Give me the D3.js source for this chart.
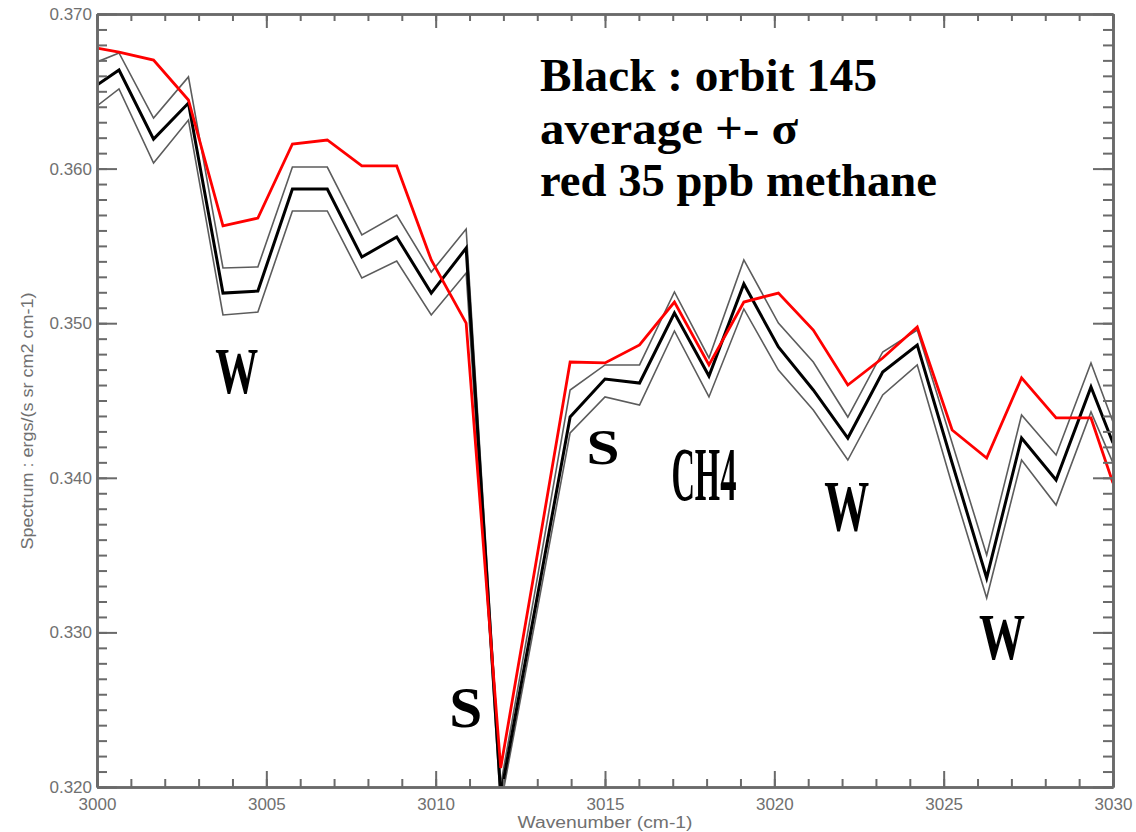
<!DOCTYPE html>
<html>
<head>
<meta charset="utf-8">
<script src="https://cdn.jsdelivr.net/npm/d3@7"></script>
<style>
	body { margin: 0; background: #fff; }
	#spectrumChart { width: 1136px; height: 832px; }
	.axisTick line, .axisTick path { stroke: #6a6a6a; }
	.tickLabel { fill: #707070; font-family: "Liberation Sans", Arial, sans-serif; }
	.annot { fill: #000; font-family: "Liberation Serif", "Times New Roman", serif; font-weight: bold; }
</style>
</head>
<body>
<div id="spectrumChart"></div>
<script>

// wavenumbers of the samples (first and last are the plot edges)
const wavenumbers = [3000.00, 3000.65, 3001.67, 3002.70, 3003.72, 3004.75, 3005.77, 3006.80, 3007.82, 3008.85,
	3009.87, 3010.90, 3011.92, 3012.95, 3013.97, 3015.00, 3016.02, 3017.05, 3018.07, 3019.10,
	3020.12, 3021.15, 3022.17, 3023.20, 3024.22, 3025.25, 3026.27, 3027.30, 3028.32, 3029.35, 3030.00];

// orbit 145 average
const avgSpectrum = [0.36541, 0.36638, 0.36191, 0.36424, 0.35195, 0.35208, 0.35868, 0.35868, 0.35428, 0.35558,
	0.35195, 0.35486, 0.31948, 0.33171, 0.34393, 0.34639, 0.34613, 0.35066, 0.34658, 0.35254,
	0.34846, 0.34568, 0.34257, 0.34684, 0.34859, 0.34096, 0.33352, 0.34257, 0.33986, 0.34587, 0.34225];

// average + sigma
const upperSpectrum = [0.36690, 0.36748, 0.36327, 0.36593, 0.35357, 0.35364, 0.36010, 0.36010, 0.35571, 0.35700,
	0.35331, 0.35609, 0.32013, 0.33287, 0.34568, 0.34730, 0.34730, 0.35202, 0.34775, 0.35409,
	0.35001, 0.34749, 0.34393, 0.34814, 0.34956, 0.34225, 0.33501, 0.34406, 0.34147, 0.34743, 0.34361];

// average - sigma
const lowerSpectrum = [0.36405, 0.36515, 0.36036, 0.36314, 0.35053, 0.35072, 0.35726, 0.35726, 0.35292, 0.35402,
	0.35053, 0.35325, 0.31884, 0.33087, 0.34290, 0.34523, 0.34471, 0.34950, 0.34523, 0.35092,
	0.34697, 0.34439, 0.34115, 0.34536, 0.34730, 0.33954, 0.33223, 0.34115, 0.33824, 0.34426, 0.34096];

// 35 ppb methane
const methaneSpectrum = [0.36780, 0.36754, 0.36702, 0.36444, 0.35629, 0.35680, 0.36159, 0.36185, 0.36017, 0.36017,
	0.35409, 0.35001, 0.32123, 0.33436, 0.34749, 0.34743, 0.34859, 0.35137, 0.34730, 0.35137,
	0.35195, 0.34956, 0.34600, 0.34775, 0.34975, 0.34309, 0.34128, 0.34646, 0.34387, 0.34387, 0.33966];

const xTickLabels = [3000, 3005, 3010, 3015, 3020, 3025, 3030];
const yTickLabels = [0.320, 0.330, 0.340, 0.350, 0.360, 0.370];

const legendLines = ['Black : orbit 145', 'average +- \u03c3', 'red 35 ppb methane'];

// band labels: text, wavenumber & value of the baseline centre
const bandLabels = [
	{ text: 'W', w: 3004.13, v: 0.34549, size: 66, len: 43 },
	{ text: 'S', w: 3010.89, v: 0.32388, size: 56, len: 33 },
	{ text: 'S', w: 3014.94, v: 0.34089, size: 50, len: 33 },
	{ text: 'CH4', w: 3017.92, v: 0.33857, size: 76, len: 65 },
	{ text: 'W', w: 3022.14, v: 0.33662, size: 71, len: 45 },
	{ text: 'W', w: 3026.72, v: 0.32828, size: 66, len: 46 }
];

const thisMargin = { left: 97, right: 23, top: 14, bottom: 45 };

function makeSpectrumElements(parentDivID){
	const thisChartDiv = document.getElementById(parentDivID);
	const svgObj = d3.select(thisChartDiv).append('svg')
		.attr('width', thisChartDiv.clientWidth)
		.attr('height', thisChartDiv.clientHeight);
	return { thisChartDiv, svgObj };
}

function toPoints(vals){
	return wavenumbers.map((w, i) => ({ w: w, v: vals[i] }));
}

function drawAxes(g, x, y, w, h){
	const xMinor = d3.range(3000, 3031, 1);
	const yMinor = d3.range(0.320, 0.3705, 0.001);

	//minor ticks first, then the majors over them
	g.append('g').attr('class', 'axisTick').attr('transform', `translate(0,${h})`)
		.call(d3.axisBottom(x).tickValues(xMinor).tickSize(-8).tickSizeOuter(0).tickFormat(''));
	g.append('g').attr('class', 'axisTick')
		.call(d3.axisTop(x).tickValues(xMinor).tickSize(-7).tickSizeOuter(0).tickFormat(''));
	g.append('g').attr('class', 'axisTick')
		.call(d3.axisLeft(y).tickValues(yMinor).tickSize(-10).tickSizeOuter(0).tickFormat(''));
	g.append('g').attr('class', 'axisTick').attr('transform', `translate(${w},0)`)
		.call(d3.axisRight(y).tickValues(yMinor).tickSize(-10).tickSizeOuter(0).tickFormat(''));

	let bottomAx = g.append('g').attr('class', 'axisTick').attr('transform', `translate(0,${h})`)
		.call(d3.axisBottom(x).tickValues(xTickLabels).tickSize(-16).tickSizeOuter(0).tickPadding(11).tickFormat(d3.format('d')));
	g.append('g').attr('class', 'axisTick')
		.call(d3.axisTop(x).tickValues(xTickLabels).tickSize(-14).tickSizeOuter(0).tickFormat(''));
	let leftAx = g.append('g').attr('class', 'axisTick')
		.call(d3.axisLeft(y).tickValues(yTickLabels).tickSize(-20).tickSizeOuter(0).tickPadding(5).tickFormat(d3.format('.3f')));
	g.append('g').attr('class', 'axisTick').attr('transform', `translate(${w},0)`)
		.call(d3.axisRight(y).tickValues(yTickLabels).tickSize(-20).tickSizeOuter(0).tickFormat(''));

	g.selectAll('.axisTick line').attr('stroke-width', 2);
	g.selectAll('.axisTick path.domain').attr('stroke-width', 2.6);

	[bottomAx, leftAx].forEach(ax => {
		ax.selectAll('text').attr('class', 'tickLabel').attr('font-size', 17).attr('fill', null);
	});
}

function buildSpectrumChart(parentDivID){
	const { thisChartDiv, svgObj } = makeSpectrumElements(parentDivID);
	const w = thisChartDiv.clientWidth - thisMargin.left - thisMargin.right;
	const h = thisChartDiv.clientHeight - thisMargin.top - thisMargin.bottom;

	const x = d3.scaleLinear().domain([3000, 3030]).range([0, w]);
	const y = d3.scaleLinear().domain([0.320, 0.370]).range([h, 0]);

	const g = svgObj.append('g').attr('transform', `translate(${thisMargin.left},${thisMargin.top})`);

	g.append('clipPath').attr('id', 'plotClip')
		.append('rect').attr('width', w).attr('height', h);

	const lineFn = d3.line().x(d => x(d.w)).y(d => y(d.v));

	const series = [
		{ vals: upperSpectrum, color: '#5c5c5c', width: 1.6 },
		{ vals: lowerSpectrum, color: '#5c5c5c', width: 1.6 },
		{ vals: avgSpectrum, color: '#000000', width: 3 },
		{ vals: methaneSpectrum, color: '#ff0000', width: 2.8 }
	];

	const lineG = g.append('g').attr('clip-path', 'url(#plotClip)');
	lineG.selectAll('path')
		.data(series)
		.enter()
		.append('path')
		.attr('d', d => lineFn(toPoints(d.vals)))
		.attr('fill', 'none')
		.attr('stroke', d => d.color)
		.attr('stroke-width', d => d.width)
		.attr('stroke-linejoin', 'miter');

	drawAxes(g, x, y, w, h);

	// band labels, placed in data space
	g.selectAll('.bandLabel')
		.data(bandLabels)
		.enter()
		.append('text')
		.attr('class', 'annot bandLabel')
		.attr('x', d => x(d.w))
		.attr('y', d => y(d.v))
		.attr('text-anchor', 'middle')
		.attr('font-size', d => d.size)
		.attr('textLength', d => d.len)
		.attr('lengthAdjust', 'spacingAndGlyphs')
		.text(d => d.text);

	// legend text block
	const legendWidths = [337, 258, 397];
	const legendBase = [77, 130, 182];
	g.selectAll('.legendLine')
		.data(legendLines)
		.enter()
		.append('text')
		.attr('class', 'annot legendLine')
		.attr('x', 443)
		.attr('y', (d, i) => legendBase[i])
		.attr('font-size', 46)
		.attr('textLength', (d, i) => legendWidths[i])
		.attr('lengthAdjust', 'spacingAndGlyphs')
		.text(d => d);

	//axis titles
	svgObj.append('text')
		.attr('class', 'tickLabel')
		.attr('transform', 'translate(33,421) rotate(-90)')
		.attr('text-anchor', 'middle')
		.attr('font-size', 16)
		.attr('textLength', 257)
		.attr('lengthAdjust', 'spacingAndGlyphs')
		.text('Spectrum : ergs/(s sr cm2 cm-1)');

	svgObj.append('text')
		.attr('class', 'tickLabel')
		.attr('x', 605)
		.attr('y', 828)
		.attr('text-anchor', 'middle')
		.attr('font-size', 16)
		.attr('textLength', 175)
		.attr('lengthAdjust', 'spacingAndGlyphs')
		.text('Wavenumber  (cm-1)');
}

buildSpectrumChart('spectrumChart');
</script>
</body>
</html>
